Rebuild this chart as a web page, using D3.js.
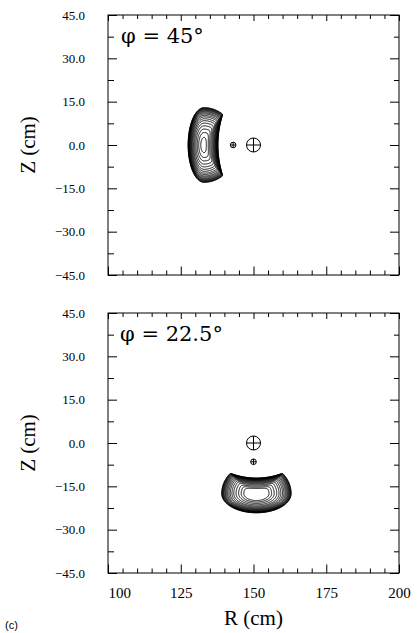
<!DOCTYPE html>
<html><head><meta charset="utf-8">
<script src="https://cdn.jsdelivr.net/npm/d3@7"></script>
<style>html,body{margin:0;padding:0;background:#fff;} svg{display:block;}</style>
</head><body>
<svg id="chart" width="417" height="633"></svg>
<script>
// ---------------- data ----------------
const phiLabels = ["φ = 45°", "φ = 22.5°"];
const rTicks = [100, 125, 150, 175, 200];
const rTickLabels = ["100", "125", "150", "175", "200"];
const rMinorTicks = [105,110,115,120,130,135,140,145,155,160,165,170,180,185,190,195];
const zTicks = [45, 30, 15, 0, -15, -30, -45];
const zTickLabels = ["45.0", "30.0", "15.0", "0.0", "\u221215.0", "\u221230.0", "\u221245.0"];
const zMinorTicks = [37.5, 22.5, 7.5, -7.5, -22.5, -37.5];

// plasma density model per panel (top: φ=45°, bottom: φ=22.5°)
const plasmaR      = [133, 151];
const plasmaZ      = [0, -17.5];
const halfRInner   = [5.5, 12];
const halfROuter   = [11.4, 12];
const halfZUp      = [13, 10.7];
const halfZDown    = [13, 6.7];
const notchR       = [172.3, 151];
const notchZ       = [0, 12.6];
const notchRadius  = [34.5, 24.7];
const notchDepth   = [5.0, 5.7];
const contourLevels = [
  [0.01,0.03,0.05,0.08,0.11,0.14,0.18,0.22,0.27,0.32,0.38,0.44,0.51,0.58,0.66,0.74,0.82,0.89,0.95,0.985],
  [0.01,0.03,0.05,0.08,0.11,0.14,0.18,0.22,0.27,0.32,0.38,0.44,0.51,0.58,0.66,0.74,0.81,0.87]
];
// markers ⊕
const bigMarkR = [150, 150];
const bigMarkZ = [0, 0];
const smallMarkR = [143, 150];
const smallMarkZ = [0, -6.5];

// ---------------- layout ----------------
const svg = d3.select("#chart");
const left = 108, right = 399;
const panelTops = [15, 313], panelH = 260;
const serif = "Liberation Serif";

const x = d3.scaleLinear().domain([100, 200]).range([left, right]);

const gridStep = 0.1;
const nx = Math.round(100 / gridStep) + 1, ny = Math.round(90 / gridStep) + 1;

function smin(a, b, k) {
  const h = Math.max(k - Math.abs(a - b), 0) / k;
  return Math.min(a, b) - h * h * k / 4;
}

panelTops.forEach((top, p) => {
  const y = d3.scaleLinear().domain([-45, 45]).range([top + panelH, top]);
  const g = svg.append("g");

  // density field
  const values = new Float64Array(nx * ny);
  for (let j = 0; j < ny; j++) {
    const Z = -45 + j * gridStep;
    for (let i = 0; i < nx; i++) {
      const R = 100 + i * gridStep;
      const dR = R - plasmaR[p], dZ = Z - plasmaZ[p];
      const a = dR < 0 ? halfRInner[p] : halfROuter[p];
      const c = dZ > 0 ? halfZUp[p] : halfZDown[p];
      const g1 = Math.max(1 - (dR / a) ** 2 - (dZ / c) ** 2, -2);
      const d = Math.hypot(R - notchR[p], Z - notchZ[p]);
      const t = (d - notchRadius[p]) / notchDepth[p];
      const g2 = t >= 1 ? 1 : Math.max(1 - (1 - t) ** 2, -2);
      values[i + j * nx] = smin(g1, g2, 0.1);
    }
  }
  const contours = d3.contours().size([nx, ny]).thresholds(contourLevels[p])(values);
  const proj = d3.geoTransform({
    point: function(px, py) {
      this.stream.point(x(100 + (px - 0.5) * gridStep), y(-45 + (py - 0.5) * gridStep));
    }
  });
  const path = d3.geoPath(proj);
  g.append("g").selectAll("path").data(contours).join("path")
    .attr("d", path).attr("fill", "none").attr("stroke", "#000").attr("stroke-width", 1);

  // markers
  const mark = (R, Z, r) => {
    const m = g.append("g").attr("fill", "none").attr("stroke", "#000").attr("stroke-width", 1);
    m.append("circle").attr("cx", x(R)).attr("cy", y(Z)).attr("r", r);
    m.append("line").attr("x1", x(R) - r).attr("x2", x(R) + r).attr("y1", y(Z)).attr("y2", y(Z));
    m.append("line").attr("x1", x(R)).attr("x2", x(R)).attr("y1", y(Z) - r).attr("y2", y(Z) + r);
  };
  mark(bigMarkR[p], bigMarkZ[p], 7);
  mark(smallMarkR[p], smallMarkZ[p], 2.8);

  // axes (ticks inward)
  const bottomY = top + panelH;
  const isLast = p === panelTops.length - 1;
  const ax = (gen, tx, ty) => {
    const a = g.append("g").attr("transform", `translate(${tx},${ty})`).call(gen);
    a.select(".domain").remove();
    a.selectAll("line").attr("stroke", "#000");
    a.attr("font-family", serif);
    return a;
  };
  const bx = ax(d3.axisBottom(x).tickValues(rTicks).tickSize(-8.5).tickSizeOuter(0)
      .tickPadding(14).tickFormat((d, i) => isLast ? rTickLabels[i] : ""), 0, bottomY);
  bx.selectAll("text").style("font-family", serif).attr("font-size", 15).attr("fill", "#000");
  bx.selectAll(".tick").filter(d => d === 100).select("text").attr("text-anchor", "start");
  ax(d3.axisBottom(x).tickValues(rMinorTicks).tickSize(-4.5).tickFormat(""), 0, bottomY);
  ax(d3.axisTop(x).tickValues(rTicks).tickSize(-6).tickFormat(""), 0, top);
  ax(d3.axisTop(x).tickValues(rMinorTicks).tickSize(-4).tickFormat(""), 0, top);

  const ly = ax(d3.axisLeft(y).tickValues(zTicks).tickSize(-9).tickPadding(23)
      .tickFormat((d, i) => zTickLabels[i]), left, 0);
  ly.selectAll("text").style("font-family", serif).attr("font-size", 13).attr("fill", "#000");
  ax(d3.axisLeft(y).tickValues(zMinorTicks).tickSize(-6).tickFormat(""), left, 0);
  ax(d3.axisRight(y).tickValues(zTicks).tickSize(-9).tickFormat(""), right, 0);
  ax(d3.axisRight(y).tickValues(zMinorTicks).tickSize(-5).tickFormat(""), right, 0);

  // frame
  g.append("rect").attr("x", left).attr("y", top).attr("width", right - left).attr("height", panelH)
    .attr("fill", "none").attr("stroke", "#000").attr("stroke-width", 1);

  // phi label
  g.append("text").attr("x", 121 - (p ? 1 : 0)).attr("y", top + 28)
    .style("font-family", "DejaVu Serif").attr("font-size", 21).attr("fill", "#000")
    .text(phiLabels[p]);

  // Z axis title
  g.append("text").attr("transform", `translate(35,${y(0)}) rotate(-90)`)
    .attr("text-anchor", "middle").style("font-family", serif).attr("font-size", 21).attr("fill", "#000")
    .text("Z (cm)");
});

svg.append("text").attr("x", (left + right) / 2).attr("y", 625).attr("text-anchor", "middle")
  .style("font-family", serif).attr("font-size", 21).attr("fill", "#000").text("R (cm)");
svg.append("text").attr("x", 5).attr("y", 629)
  .style("font-family", "Liberation Sans").attr("font-size", 11).attr("fill", "#000").text("(c)");
</script>
</body></html>
